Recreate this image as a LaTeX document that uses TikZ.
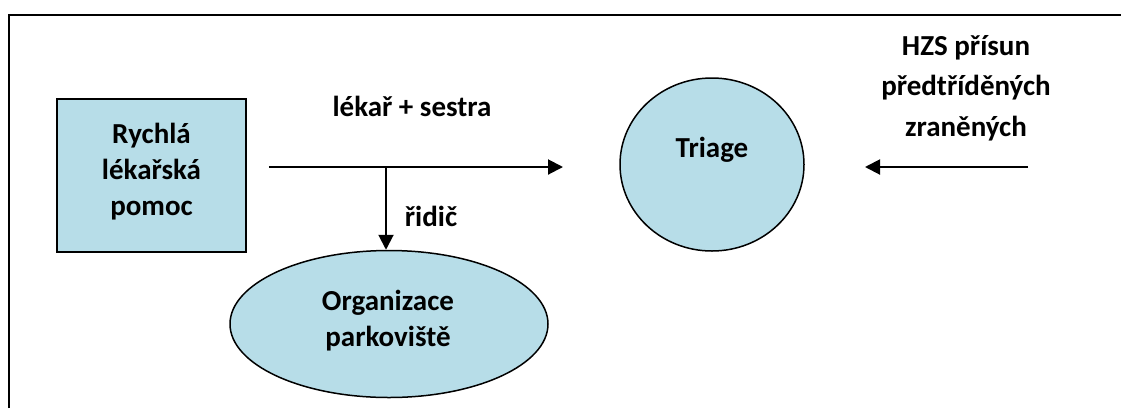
\documentclass[tikz,border=0pt]{standalone}
\usepackage{fontspec}
\setmainfont{Carlito}
\usetikzlibrary{shapes.geometric,arrows.meta}
\definecolor{paleblue}{HTML}{B7DDE8}
\begin{document}
\begin{tikzpicture}[x=1pt,y=-1pt,
  every node/.style={font=\bfseries\fontsize{29}{36}\selectfont, align=center, inner sep=0pt},
  shapefill/.style={draw=black, line width=1.5pt, fill=paleblue},
  flow/.style={line width=2pt, -{Triangle[length=15pt,width=15pt]}},
  lbl/.style={text=black}]
  \useasboundingbox (0,0) rectangle (1121,408);
  % open frame: top and left edges only
  \draw[line width=2.2pt] (9,408) -- (9,15) -- (1121,15);

  % boxes and ellipses
  \node[shapefill, rectangle, minimum width=189pt, minimum height=153pt] (rlp) at (151.5,175.5) {};
  \node[lbl] (rlptext) at (151.5,171.5) {Rychlá\\lékařská\\pomoc};

  \node[shapefill, ellipse, minimum width=184pt, minimum height=173pt] (triage) at (712,164.5) {};
  \node[lbl] (triagetext) at (712,150) {Triage};

  \node[shapefill, ellipse, minimum width=318pt, minimum height=147pt] (park) at (389,324) {};
  \node[lbl] (parktext) at (388,321) {Organizace\\parkoviště};

  \node[lbl, font=\bfseries\fontsize{29}{40.5}\selectfont] (hzs) at (966,88) {HZS přísun\\předtříděných\\zraněných};

  % labels on the connectors
  \node[lbl] (crew) at (412,106) {lékař + sestra};
  \node[lbl] (driver) at (431,216) {řidič};

  % connectors
  \coordinate (start) at ([xshift=22pt]rlp.east |- 0,167);
  \coordinate (split) at (386,167);
  \coordinate (triin) at (563,167);
  \coordinate (hzsout) at (1028,167);
  \coordinate (hzsin) at (865,167);
  \draw[flow] (start) -- (triin);
  \draw[flow] (split) -- (split |- park.north);
  \draw[flow] (hzsout) -- (hzsin);
\end{tikzpicture}
\end{document}
